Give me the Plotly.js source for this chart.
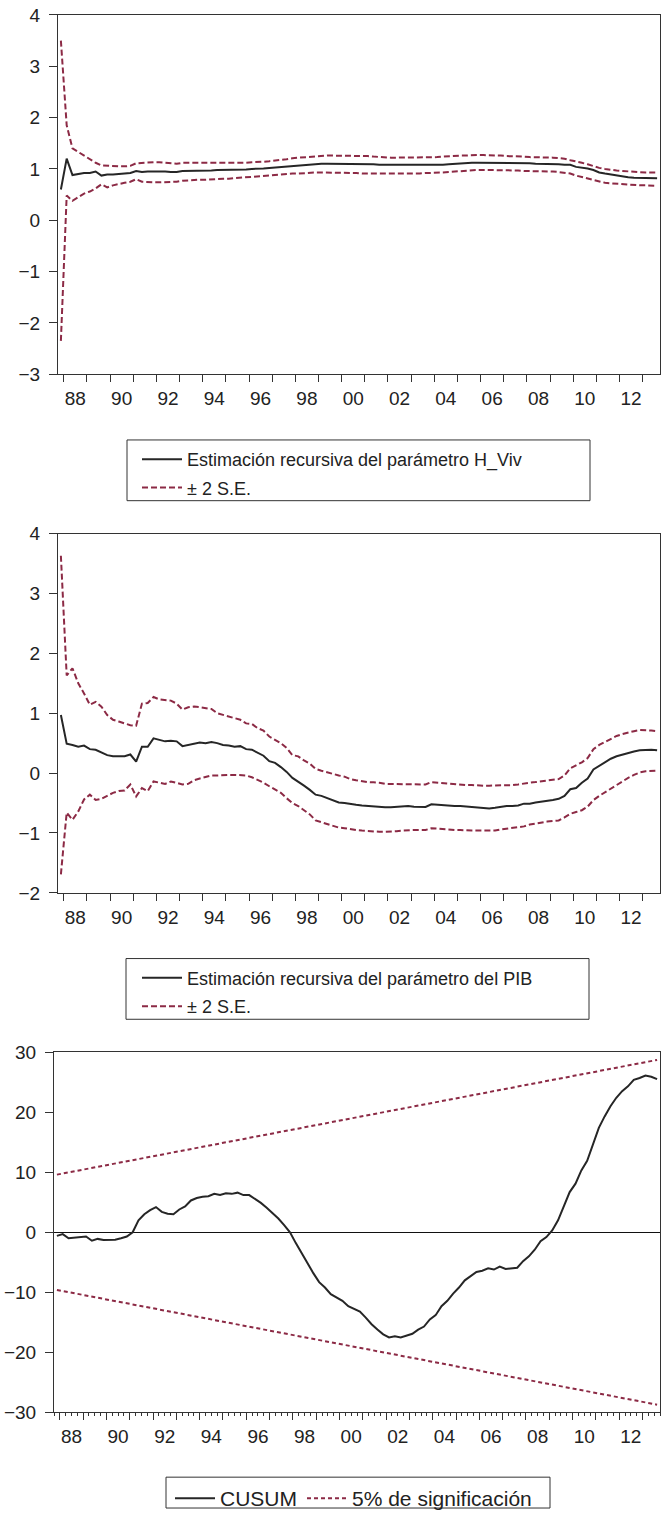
<!DOCTYPE html>
<html>
<head>
<meta charset="utf-8">
<script src="https://cdn.plot.ly/plotly-3.0.1.min.js"></script>
<style>
html,body{margin:0;padding:0;background:#fff;}
#chart{width:667px;height:1519px;}
</style>
</head>
<body>
<div id="chart"></div>
<script>
// ---------------- DATA ----------------
// Quarterly observations, first one is 1987Q4, last one 2013Q3
const firstYear = 1987;
const firstQuarter = 4;

// year boundaries (tick marks) and the year labels (shown centred on every other year)
const yearTicks = [1988,1989,1990,1991,1992,1993,1994,1995,1996,1997,1998,1999,2000,
                   2001,2002,2003,2004,2005,2006,2007,2008,2009,2010,2011,2012,2013];
const labelYears = [1988,1990,1992,1994,1996,1998,2000,2002,2004,2006,2008,2010,2012];
const yearLabels = ['88','90','92','94','96','98','00','02','04','06','08','10','12'];

// Chart 1: recursive estimate of H_Viv parameter and +-2 S.E.
const hvivCoef = [0.60,
  1.20,0.88,0.90,0.92,  0.92,0.95,0.87,0.89,  0.89,0.90,0.91,0.92,  0.96,0.94,0.95,0.95,
  0.96,0.95,0.94,0.94,  0.96,0.96,0.96,0.97,  0.97,0.97,0.98,0.98,  0.98,0.98,0.99,0.99,
  1.00,1.00,1.01,1.02,  1.03,1.03,1.04,1.05,  1.07,1.07,1.08,1.09,  1.10,1.10,1.10,1.10,
  1.10,1.10,1.10,1.09,  1.09,1.09,1.08,1.08,  1.07,1.07,1.07,1.07,  1.07,1.07,1.07,1.08,
  1.08,1.08,1.09,1.10,  1.10,1.11,1.12,1.12,  1.12,1.12,1.12,1.12,  1.12,1.12,1.11,1.11,
  1.11,1.10,1.10,1.10,  1.09,1.09,1.08,1.08,  1.04,1.03,1.01,0.98,  0.93,0.91,0.89,0.87,
  0.85,0.84,0.83,0.83,  0.82,0.82,0.82];
const hvivUpper = [3.50,
  1.85,1.40,1.33,1.25,  1.18,1.12,1.07,1.06,  1.05,1.05,1.05,1.06,  1.11,1.12,1.13,1.13,
  1.13,1.12,1.11,1.10,  1.12,1.12,1.12,1.12,  1.11,1.11,1.11,1.11,  1.11,1.12,1.12,1.12,
  1.13,1.13,1.14,1.15,  1.16,1.17,1.19,1.21,  1.22,1.23,1.24,1.25,  1.26,1.26,1.26,1.26,
  1.26,1.26,1.25,1.25,  1.25,1.24,1.23,1.23,  1.22,1.22,1.22,1.22,  1.22,1.22,1.23,1.23,
  1.23,1.24,1.25,1.25,  1.26,1.26,1.27,1.27,  1.27,1.27,1.26,1.26,  1.25,1.25,1.24,1.24,
  1.23,1.23,1.22,1.22,  1.22,1.21,1.20,1.17,  1.15,1.12,1.09,1.05,  1.02,1.00,0.98,0.97,
  0.96,0.95,0.94,0.94,  0.93,0.93,0.93];
const hvivLower = [-2.35,
  0.48,0.38,0.45,0.52,  0.56,0.62,0.70,0.64,  0.68,0.71,0.73,0.75,  0.80,0.75,0.74,0.74,
  0.74,0.74,0.75,0.75,  0.77,0.78,0.78,0.79,  0.79,0.80,0.80,0.81,  0.81,0.82,0.83,0.83,
  0.84,0.85,0.86,0.87,  0.88,0.89,0.90,0.91,  0.91,0.92,0.92,0.93,  0.93,0.93,0.92,0.92,
  0.92,0.92,0.92,0.91,  0.91,0.91,0.90,0.90,  0.90,0.90,0.90,0.90,  0.91,0.91,0.92,0.92,
  0.92,0.93,0.94,0.95,  0.96,0.97,0.97,0.98,  0.98,0.98,0.98,0.98,  0.97,0.97,0.97,0.96,
  0.96,0.96,0.95,0.95,  0.95,0.94,0.93,0.91,  0.87,0.84,0.81,0.78,  0.75,0.73,0.72,0.71,
  0.70,0.69,0.69,0.68,  0.68,0.68,0.67];

// Chart 2: recursive estimate of the PIB parameter and +-2 S.E.
const pibCoef = [0.97,
  0.49,0.47,0.44,0.46,  0.40,0.39,0.34,0.30,  0.28,0.28,0.28,0.31,  0.19,0.44,0.44,0.58,
  0.55,0.53,0.54,0.53,  0.45,0.47,0.48,0.51,  0.50,0.52,0.50,0.47,  0.46,0.44,0.45,0.40,
  0.39,0.34,0.29,0.20,  0.17,0.10,0.02,-0.08, -0.14,-0.21,-0.28,-0.36, -0.38,-0.42,-0.45,-0.49,
  -0.50,-0.52,-0.53,-0.54, -0.55,-0.55,-0.56,-0.57, -0.57,-0.56,-0.56,-0.55, -0.56,-0.56,-0.565,-0.52,
  -0.53,-0.53,-0.54,-0.55, -0.55,-0.56,-0.57,-0.58, -0.58,-0.59,-0.58,-0.56, -0.55,-0.55,-0.54,-0.51,
  -0.51,-0.49,-0.48,-0.47, -0.45,-0.43,-0.38,-0.27, -0.25,-0.16,-0.09,0.06,  0.12,0.18,0.24,0.28,
  0.31,0.34,0.36,0.38,  0.39,0.39,0.38];
const pibUpper = [3.63,
  1.63,1.75,1.50,1.33,  1.14,1.19,1.11,0.97,  0.89,0.86,0.83,0.80,  0.79,1.16,1.17,1.27,
  1.23,1.22,1.21,1.16,  1.06,1.10,1.11,1.10,  1.08,1.07,1.00,0.97,  0.94,0.91,0.89,0.83,
  0.82,0.75,0.71,0.61,  0.55,0.50,0.42,0.30,  0.28,0.21,0.16,0.07,  0.04,0.01,-0.01,-0.04,
  -0.06,-0.10,-0.12,-0.14, -0.15,-0.155,-0.16,-0.18, -0.18,-0.18,-0.18,-0.18, -0.18,-0.19,-0.19,-0.15,
  -0.16,-0.17,-0.17,-0.18, -0.19,-0.20,-0.20,-0.21, -0.21,-0.21,-0.21,-0.20, -0.20,-0.20,-0.19,-0.17,
  -0.16,-0.15,-0.14,-0.13, -0.12,-0.10,-0.04,0.08,  0.13,0.18,0.25,0.40,  0.47,0.52,0.58,0.62,
  0.65,0.68,0.70,0.72,  0.72,0.71,0.70];
const pibLower = [-1.69,
  -0.66,-0.78,-0.64,-0.44, -0.36,-0.45,-0.43,-0.38, -0.33,-0.30,-0.29,-0.19, -0.39,-0.25,-0.30,-0.14,
  -0.16,-0.18,-0.14,-0.17, -0.19,-0.18,-0.12,-0.09, -0.07,-0.04,-0.04,-0.03, -0.03,-0.03,-0.03,-0.04,
  -0.07,-0.11,-0.16,-0.22, -0.28,-0.33,-0.42,-0.50, -0.55,-0.62,-0.69,-0.79, -0.82,-0.86,-0.89,-0.91,
  -0.92,-0.94,-0.95,-0.96, -0.97,-0.97,-0.98,-0.98, -0.98,-0.97,-0.96,-0.95, -0.95,-0.95,-0.95,-0.92,
  -0.93,-0.93,-0.94,-0.95, -0.95,-0.96,-0.96,-0.96, -0.96,-0.96,-0.96,-0.94, -0.93,-0.92,-0.91,-0.89,
  -0.86,-0.84,-0.82,-0.81, -0.80,-0.79,-0.74,-0.68, -0.65,-0.62,-0.56,-0.45, -0.38,-0.32,-0.25,-0.19,
  -0.13,-0.08,-0.03,0.01,  0.03,0.04,0.04];

// Chart 3: CUSUM and 5% significance bounds
const cusum = [-0.6,
  -0.3,-1.0,-0.9,-0.8,  -0.7,-1.4,-1.1,-1.3,  -1.3,-1.25,-1.0,-0.7,  0.0,2.0,3.0,3.7,
  4.2,3.4,3.1,3.0,  3.8,4.3,5.3,5.7,  5.9,6.0,6.4,6.2,  6.5,6.4,6.6,6.2,
  6.2,5.6,4.9,4.1,  3.2,2.3,1.2,0.0,  -1.8,-3.5,-5.1,-6.8,  -8.3,-9.2,-10.3,-10.9,
  -11.4,-12.3,-12.8,-13.2,  -14.2,-15.3,-16.2,-17.0,  -17.5,-17.3,-17.5,-17.2,  -16.9,-16.2,-15.7,-14.5,
  -13.8,-12.3,-11.4,-10.2,  -9.2,-8.0,-7.3,-6.6,  -6.4,-6.0,-6.2,-5.7,  -6.1,-6.0,-5.9,-4.8,
  -4.0,-2.9,-1.5,-0.8,  0.3,2.0,4.2,6.7,  8.1,10.3,11.9,14.7,  17.4,19.3,21.0,22.4,
  23.5,24.3,25.4,25.7,  26.1,25.9,25.5];
const cusumBoundUpper = [9.6, 28.7];   // at first and last observation
const cusumBoundLower = [-9.6, -28.7];

// ---------------- LAYOUT HELPERS ----------------
const W = 667, H = 1519;
const px = v => v / W;
const py = v => 1 - v / H;
const fontFamily = 'Liberation Sans, Arial, Helvetica, sans-serif';
const textColor = '#222222';
const axisColor = '#333333';
const mainColor = '#262626';
const bandColor = '#8c2a45';

function quarterPositions(n) {
  const out = [];
  for (let k = 0; k < n; k++) {
    const q = firstQuarter - 1 + k;
    out.push(firstYear + Math.floor(q / 4) + (q % 4) / 4 + 0.125);
  }
  return out;
}
const xq = quarterPositions(hvivCoef.length);
const xEnds = [xq[0], xq[xq.length - 1]];
const labelPositions = labelYears.map(y => y + 0.5);   // centre of each labelled year

function series(x, y, axisN, name, legendId, dashed, dashPattern, showlegend, group) {
  const s = axisN === 1 ? '' : String(axisN);
  return {
    type: 'scatter', mode: 'lines', x: x, y: y,
    xaxis: 'x' + s, yaxis: 'y' + s,
    name: name, legend: legendId, legendgroup: group, showlegend: showlegend,
    line: dashed ? {color: bandColor, width: 2, dash: dashPattern}
                 : {color: mainColor, width: 2},
    hoverinfo: 'skip'
  };
}
// empty carrier trace so that the overlaying label axis gets drawn
function labelCarrier(xa, ya) {
  return {type: 'scatter', mode: 'lines', x: labelPositions,
          y: labelPositions.map(() => null), xaxis: xa, yaxis: ya,
          showlegend: false, hoverinfo: 'skip', line: {width: 0}};
}

const traces = [
  series(xq, hvivCoef, 1, 'Estimación recursiva del parámetro H_Viv', 'legend', false, null, true, 'a1'),
  series(xq, hvivUpper, 1, '± 2 S.E.', 'legend', true, '6px,3px', true, 'b1'),
  series(xq, hvivLower, 1, '± 2 S.E.', 'legend', true, '6px,3px', false, 'b1'),
  series(xq, pibCoef, 2, 'Estimación recursiva del parámetro del PIB', 'legend2', false, null, true, 'a2'),
  series(xq, pibUpper, 2, '± 2 S.E.', 'legend2', true, '6px,3px', true, 'b2'),
  series(xq, pibLower, 2, '± 2 S.E.', 'legend2', true, '6px,3px', false, 'b2'),
  series(xq, cusum, 3, 'CUSUM', 'legend3', false, null, true, 'a3'),
  series(xEnds, cusumBoundUpper, 3, '5% de significación', 'legend3', true, '4px,3px', true, 'b3'),
  series(xEnds, cusumBoundLower, 3, '5% de significación', 'legend3', true, '4px,3px', false, 'b3'),
  labelCarrier('x4', 'y'),
  labelCarrier('x5', 'y2'),
  labelCarrier('x6', 'y3')
];

const tickFont = {family: fontFamily, size: 19, color: textColor};
const xRange = [1987.75, 2013.75];

// axis with the year tick marks (no labels)
function xTickAxis(anchor, left, right, withMinor) {
  const ax = {
    domain: [px(left), px(right)], anchor: anchor, range: xRange,
    tickmode: 'array', tickvals: yearTicks, showticklabels: false,
    ticks: 'outside', ticklen: 7, tickwidth: 1, tickcolor: axisColor,
    showline: true, linecolor: axisColor, linewidth: 1, mirror: true,
    showgrid: false, zeroline: false
  };
  if (withMinor) {
    ax.minor = {tickmode: 'linear', tick0: 1988, dtick: 0.25, ticks: 'outside',
                ticklen: 3, tickwidth: 1, tickcolor: axisColor, showgrid: false};
  }
  return ax;
}
// overlay axis carrying the year labels, centred within the years
function xLabelAxis(over, anchor, left, right) {
  return {
    overlaying: over, anchor: anchor, side: 'bottom',
    domain: [px(left), px(right)], range: xRange,
    tickmode: 'array', tickvals: labelPositions, ticktext: yearLabels,
    ticks: 'outside', ticklen: 7, tickcolor: 'rgba(0,0,0,0)',
    showline: false, showgrid: false, zeroline: false, tickfont: tickFont
  };
}
function yAxis(anchor, top, bottom, range, dtick, zero) {
  return {
    domain: [py(bottom), py(top)], anchor: anchor,
    range: range, tickmode: 'linear', tick0: 0, dtick: dtick,
    ticks: 'outside', ticklen: 8, tickwidth: 1, tickcolor: axisColor,
    ticklabelstandoff: 5,
    showline: true, linecolor: axisColor, linewidth: 1, mirror: true,
    showgrid: false, zeroline: zero, zerolinecolor: '#111111', zerolinewidth: 1,
    tickfont: tickFont
  };
}

function legendBox(x0, y0, x1, y1) {
  return {type: 'rect', xref: 'paper', yref: 'paper',
          x0: px(x0), x1: px(x1), y0: py(y1), y1: py(y0),
          line: {color: axisColor, width: 1}, fillcolor: 'rgba(0,0,0,0)'};
}
function legendDef(x, y, size, horizontal, gap) {
  return {
    x: px(x), y: py(y), xanchor: 'left', yanchor: 'top',
    orientation: horizontal ? 'h' : 'v',
    bgcolor: 'rgba(0,0,0,0)', borderwidth: 0,
    font: {family: fontFamily, size: size, color: textColor},
    traceorder: 'grouped', tracegroupgap: gap, itemwidth: 40
  };
}

const layout = {
  width: W, height: H,
  margin: {l: 0, r: 0, t: 0, b: 0},
  paper_bgcolor: '#ffffff', plot_bgcolor: '#ffffff',
  font: {family: fontFamily, color: textColor},
  xaxis: xTickAxis('y', 58, 660, false),
  yaxis: yAxis('x', 15, 376, [-3, 4], 1, false),
  xaxis2: xTickAxis('y2', 58, 660, false),
  yaxis2: yAxis('x2', 536, 897, [-2, 4], 1, false),
  xaxis3: xTickAxis('y3', 54, 660, true),
  yaxis3: yAxis('x3', 1057, 1419, [-30, 30], 10, true),
  xaxis4: xLabelAxis('x', 'y', 58, 660),
  xaxis5: xLabelAxis('x2', 'y2', 58, 660),
  xaxis6: xLabelAxis('x3', 'y3', 54, 660),
  legend: legendDef(137, 443, 18, false, 2),
  legend2: legendDef(137, 964, 18, false, 2),
  legend3: legendDef(170, 1485, 21, true, 0),
  shapes: [
    legendBox(127, 442, 590, 503),
    legendBox(126, 963, 589, 1024),
    legendBox(166, 1484, 550, 1515)
  ],
  showlegend: true
};

Plotly.newPlot('chart', traces, layout, {staticPlot: true, displayModeBar: false});
</script>
</body>
</html>
